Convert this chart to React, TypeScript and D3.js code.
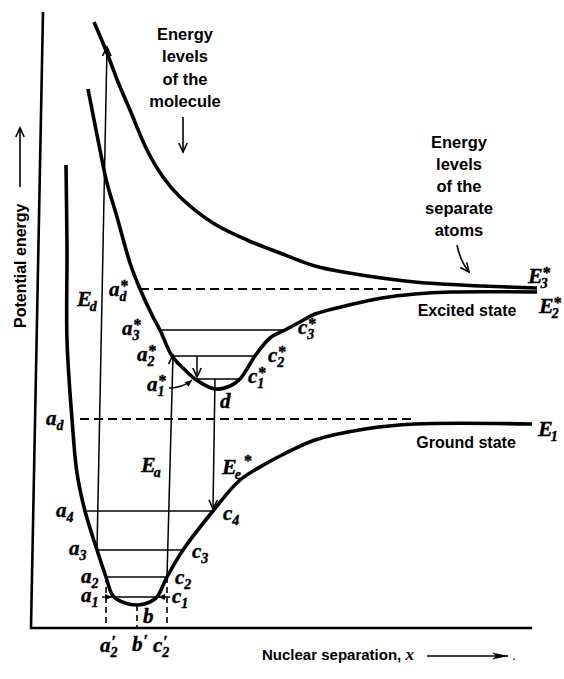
import React, { useEffect, useRef } from "react";
import * as d3 from "d3";

type Pt = [number, number];

// separation (u) vs potential energy (v), arbitrary units
const groundCurve: Pt[] = [
  [7.2, 92.6], [7.4, 75.6], [7.4, 57.6], [8.4, 41.8], [9.4, 31], [11, 23.4],
  [13.4, 15.6], [15.2, 10.2], [16.6, 6.4], [19, 5], [21.6, 4.6], [24, 5.2],
  [25.4, 6.2], [27.4, 10.2], [30.6, 15.6], [36.6, 23.4], [42, 29.6],
  [47.4, 33], [50.4, 34.6], [57, 37.6], [67, 39.8], [77, 40.8], [100.4, 40.8],
];

const excitedCurve: Pt[] = [
  [11.6, 107.8], [14, 95.6], [15.4, 89], [17.4, 82.2], [20, 73], [22, 67.8],
  [24.6, 62.2], [26, 59.6], [28.4, 54.4], [30.6, 52], [33, 49.8], [37, 47.8],
  [40, 48.4], [42, 49.8], [45, 54.4], [48, 58], [51, 59.6], [54, 61.2],
  [57, 62.8], [63.8, 64.6], [70.4, 66], [77, 66.8], [84, 67.2], [101.4, 67.2],
];

const repulsiveCurve: Pt[] = [
  [12.8, 121.2], [15.4, 115], [17.6, 109.2], [20, 103.6], [23.4, 95.6],
  [26.6, 90.2], [30, 86.2], [36.6, 81], [43.4, 77.6], [50, 75], [57, 72.4],
  [63.8, 71], [77, 69.2], [90.4, 68.4], [101.4, 68],
];

const axisFrame: Pt[] = [[2.6, 123.2], [0.2, 0], [100.4, 0]];

// vibrational levels: energy, left and right turning points
const groundLevels = [
  { v: 6.2, u0: 16.4, u1: 25.4 },
  { v: 10.2, u0: 15.2, u1: 27.4 },
  { v: 15.6, u0: 13.4, u1: 31 },
  { v: 23.4, u0: 11.4, u1: 36.6 },
];
const excitedLevels = [
  { v: 49.8, u0: 33.4, u1: 42 },
  { v: 54.4, u0: 28.4, u1: 45 },
  { v: 59.6, u0: 26, u1: 51 },
];
const dissociationLevels = [
  { v: 41.8, u0: 10, u1: 76.4 },
  { v: 67.8, u0: 22, u1: 75 },
];
const projections = [
  { u: 15.2, v: 10.2 },
  { u: 21.4, v: 4.6 },
  { u: 27.4, v: 10.2 },
];

// vertical transitions (arrow at "to")
const transitions: { from: Pt; to: Pt }[] = [
  { from: [13.4, 15.6], to: [15.4, 116.2] },
  { from: [27.4, 10.2], to: [28.6, 54.6] },
  { from: [37, 49.8], to: [36.6, 23.8] },
  { from: [33.4, 54.4], to: [33.4, 50.2] },
];
const pointers: { from: Pt; to: Pt }[] = [
  { from: [14.4, 6.2], to: [16.4, 6.2] },
  { from: [28, 6.2], to: [25.6, 6.2] },
];

const symbols = [
  { t: "E", sub: "d", u: 9.4, v: 64.4 },
  { t: "a", sub: "d", sup: "*", u: 15.8, v: 66.4 },
  { t: "a", sub: "3", sup: "*", u: 18.4, v: 58.6 },
  { t: "a", sub: "2", sup: "*", u: 21.4, v: 53.4 },
  { t: "a", sub: "1", sup: "*", u: 23.4, v: 47.4 },
  { t: "c", sub: "3", sup: "*", u: 53.6, v: 58.8 },
  { t: "c", sub: "2", sup: "*", u: 47.6, v: 53.2 },
  { t: "c", sub: "1", sup: "*", u: 43.6, v: 49 },
  { t: "d", u: 38, v: 44 },
  { t: "a", sub: "d", u: 3.2, v: 40.6 },
  { t: "E", sub: "a", u: 22.2, v: 31.2 },
  { t: "E", sub: "e", sup: "*", late: true, u: 38.4, v: 30.8 },
  { t: "a", sub: "4", u: 5.2, v: 22.2 },
  { t: "c", sub: "4", u: 38.6, v: 21.6 },
  { t: "a", sub: "3", u: 7.8, v: 14.6 },
  { t: "c", sub: "3", u: 32.4, v: 14 },
  { t: "a", sub: "2", u: 10.2, v: 9 },
  { t: "c", sub: "2", u: 29, v: 8.8 },
  { t: "a", sub: "1", u: 10.2, v: 5.2 },
  { t: "c", sub: "1", u: 28.4, v: 5 },
  { t: "b", u: 22.6, v: 1 },
  { t: "a", sub: "2", sup: "′", u: 14, v: -4.8 },
  { t: "b", sup: "′", u: 20.4, v: -4.6 },
  { t: "c", sub: "2", sup: "′", u: 24.6, v: -4.8 },
  { t: "E", sub: "3", sup: "*", u: 99.6, v: 69 },
  { t: "E", sub: "2", sup: "*", u: 101.8, v: 63 },
  { t: "E", sub: "1", u: 101.6, v: 38.4 },
];

const moleculeNote = ["Energy", "levels", "of the", "molecule"];
const atomsNote = ["Energy", "levels", "of the", "separate", "atoms"];
const stateNames = [
  { text: "Excited state", u: 87.4, v: 62.4 },
  { text: "Ground state", u: 87.2, v: 36 },
];

function App() {
  const ref = useRef<SVGSVGElement>(null);

  useEffect(() => {
    document.body.style.margin = "0";
    const svg = d3.select(ref.current);
    svg.selectAll("*").remove();

    const x = d3.scaleLinear().domain([0, 100]).range([30, 530]);
    const y = d3.scaleLinear().domain([0, 100]).range([628, 128]);
    const line = d3
      .line<Pt>()
      .x((d) => x(d[0]))
      .y((d) => y(d[1]));
    const smooth = d3
      .line<Pt>()
      .x((d) => x(d[0]))
      .y((d) => y(d[1]))
      .curve(d3.curveCatmullRom.alpha(0.5));

    const defs = svg.append("defs");
    defs
      .append("marker")
      .attr("id", "open")
      .attr("viewBox", "-10 -6 12 12")
      .attr("markerUnits", "userSpaceOnUse")
      .attr("markerWidth", 12)
      .attr("markerHeight", 12)
      .attr("orient", "auto")
      .append("path")
      .attr("d", "M-9,-4.2L0,0L-9,4.2")
      .attr("fill", "none")
      .attr("stroke", "#000")
      .attr("stroke-width", 1.6);
    defs
      .append("marker")
      .attr("id", "solid")
      .attr("viewBox", "-8 -4 9 8")
      .attr("markerUnits", "userSpaceOnUse")
      .attr("markerWidth", 9)
      .attr("markerHeight", 8)
      .attr("orient", "auto")
      .append("path")
      .attr("d", "M-7,-3L0,0L-7,3Z")
      .attr("fill", "#000");
    defs
      .append("marker")
      .attr("id", "long")
      .attr("viewBox", "-16 -5 17 10")
      .attr("markerUnits", "userSpaceOnUse")
      .attr("markerWidth", 17)
      .attr("markerHeight", 10)
      .attr("orient", "auto")
      .append("path")
      .attr("d", "M-16,-3.5L0,0L-16,3.5L-12,0Z")
      .attr("fill", "#000");

    svg
      .append("rect")
      .attr("width", 564)
      .attr("height", 679)
      .attr("fill", "#fff");

    // frame
    svg
      .append("path")
      .attr("d", line(axisFrame))
      .attr("fill", "none")
      .attr("stroke", "#000")
      .attr("stroke-width", 2.6);

    // dashed dissociation levels and projections
    svg
      .selectAll(".dis")
      .data(dissociationLevels)
      .join("line")
      .attr("x1", (d) => x(d.u0))
      .attr("x2", (d) => x(d.u1))
      .attr("y1", (d) => y(d.v))
      .attr("y2", (d) => y(d.v))
      .attr("stroke", "#000")
      .attr("stroke-width", 1.8)
      .attr("stroke-dasharray", "9,5");
    svg
      .selectAll(".proj")
      .data(projections)
      .join("line")
      .attr("x1", (d) => x(d.u))
      .attr("x2", (d) => x(d.u))
      .attr("y1", (d) => y(d.v))
      .attr("y2", y(0))
      .attr("stroke", "#000")
      .attr("stroke-width", 1.6)
      .attr("stroke-dasharray", "6,4");

    // vibrational levels
    svg
      .selectAll(".lev")
      .data([...groundLevels, ...excitedLevels])
      .join("line")
      .attr("x1", (d) => x(d.u0))
      .attr("x2", (d) => x(d.u1))
      .attr("y1", (d) => y(d.v))
      .attr("y2", (d) => y(d.v))
      .attr("stroke", "#000")
      .attr("stroke-width", 1.5);

    // transitions
    svg
      .selectAll(".tr")
      .data(transitions)
      .join("line")
      .attr("x1", (d) => x(d.from[0]))
      .attr("y1", (d) => y(d.from[1]))
      .attr("x2", (d) => x(d.to[0]))
      .attr("y2", (d) => y(d.to[1]))
      .attr("stroke", "#000")
      .attr("stroke-width", 1.5)
      .attr("marker-end", "url(#open)");
    svg
      .selectAll(".pt")
      .data(pointers)
      .join("line")
      .attr("x1", (d) => x(d.from[0]))
      .attr("y1", (d) => y(d.from[1]))
      .attr("x2", (d) => x(d.to[0]))
      .attr("y2", (d) => y(d.to[1]))
      .attr("stroke", "#000")
      .attr("stroke-width", 1.5)
      .attr("marker-end", "url(#solid)");
    // a1* curved pointer
    const p0 = [x(27.8), y(48)];
    const p1 = [x(32.4), y(49.6)];
    svg
      .append("path")
      .attr("d", `M${p0[0]},${p0[1]} Q${(p0[0] + p1[0]) / 2 + 2},${p1[1] + 8} ${p1[0]},${p1[1]}`)
      .attr("fill", "none")
      .attr("stroke", "#000")
      .attr("stroke-width", 1.5)
      .attr("marker-end", "url(#solid)");

    // potential curves
    svg
      .selectAll(".curve")
      .data([groundCurve, excitedCurve, repulsiveCurve])
      .join("path")
      .attr("d", (d) => smooth(d))
      .attr("fill", "none")
      .attr("stroke", "#000")
      .attr("stroke-width", 3.6)
      .attr("stroke-linecap", "butt");

    // symbols
    const sym = svg
      .append("g")
      .attr("font-family", "'Liberation Serif', 'DejaVu Serif', serif")
      .attr("font-weight", "bold")
      .attr("font-style", "italic")
      .attr("fill", "#000")
      .attr("stroke", "#000")
      .attr("stroke-width", 0.4);
    symbols.forEach((s: any) => {
      const bx = x(s.u);
      const by = y(s.v);
      const main = sym
        .append("text")
        .attr("x", bx)
        .attr("y", by)
        .attr("font-size", s.t === "E" ? 22 : 21)
        .text(s.t);
      const w = (main.node() as SVGTextElement).getComputedTextLength();
      const sx = bx + w + (s.t === "E" ? -2 : 0);
      let subW = 0;
      if (s.sub) {
        const st = sym
          .append("text")
          .attr("x", sx)
          .attr("y", by + 5)
          .attr("font-size", 14)
          .text(s.sub);
        subW = (st.node() as SVGTextElement).getComputedTextLength();
      }
      if (s.sup) {
        const prime = s.sup === "′";
        sym
          .append("text")
          .attr("x", s.late ? sx + subW + 3 : sx + (s.t === "E" ? 2 : 1))
          .attr("y", s.late ? by - 8 : by - (prime ? 5 : 5))
          .attr("font-size", prime ? 17 : 16)
          .attr("font-style", "normal")
          .text(s.sup);
      }
    });

    // notes
    const notes = svg
      .append("g")
      .attr("font-family", "'Liberation Sans', Arial, sans-serif")
      .attr("font-weight", "bold")
      .attr("font-size", 16.5)
      .attr("text-anchor", "middle")
      .attr("fill", "#000");
    notes
      .selectAll(".mol")
      .data(moleculeNote)
      .join("text")
      .attr("x", x(31))
      .attr("y", (d, i) => y(117.6) + i * 22.4)
      .text((d) => d);
    notes
      .selectAll(".atm")
      .data(atomsNote)
      .join("text")
      .attr("x", x(85.8))
      .attr("y", (d, i) => y(96) + i * 22)
      .text((d) => d);
    notes
      .selectAll(".st")
      .data(stateNames)
      .join("text")
      .attr("x", (d) => x(d.u))
      .attr("y", (d) => y(d.v))
      .attr("font-size", 16)
      .text((d) => d.text);

    // note arrows
    svg
      .append("line")
      .attr("x1", x(30.6))
      .attr("y1", y(102.2))
      .attr("x2", x(30.6))
      .attr("y2", y(95.2))
      .attr("stroke", "#000")
      .attr("stroke-width", 1.6)
      .attr("marker-end", "url(#open)");
    const a0 = [x(85.4), y(76.6)];
    const a1 = [x(87.8), y(71.2)];
    svg
      .append("path")
      .attr("d", `M${a0[0]},${a0[1]} Q${a0[0] + 3},${(a0[1] + a1[1]) / 2 + 2} ${a1[0]},${a1[1]}`)
      .attr("fill", "none")
      .attr("stroke", "#000")
      .attr("stroke-width", 1.6)
      .attr("marker-end", "url(#open)");

    // axis titles
    const xt = svg
      .append("text")
      .attr("x", x(46.4))
      .attr("y", y(-6.4))
      .attr("font-family", "'Liberation Sans', Arial, sans-serif")
      .attr("font-weight", "bold")
      .attr("font-size", 15);
    xt.append("tspan").text("Nuclear separation, ");
    xt.append("tspan")
      .attr("font-family", "'Liberation Serif', serif")
      .attr("font-style", "italic")
      .attr("font-size", 17)
      .text("x");
    svg
      .append("line")
      .attr("x1", x(79.4))
      .attr("y1", y(-5.6))
      .attr("x2", x(95.6))
      .attr("y2", y(-5.6))
      .attr("stroke", "#000")
      .attr("stroke-width", 1.5)
      .attr("marker-end", "url(#long)");
    svg
      .append("text")
      .attr("x", x(96.4))
      .attr("y", y(-6.4))
      .attr("font-family", "'Liberation Sans', Arial, sans-serif")
      .attr("font-size", 14)
      .text(".");

    svg
      .append("text")
      .attr("transform", `translate(26,${y(60)}) rotate(-90)`)
      .attr("font-family", "'Liberation Sans', Arial, sans-serif")
      .attr("font-weight", "bold")
      .attr("font-size", 16)
      .text("Potential energy");
    svg
      .append("line")
      .attr("x1", 20)
      .attr("y1", y(88.2))
      .attr("x2", 20)
      .attr("y2", y(100))
      .attr("stroke", "#000")
      .attr("stroke-width", 1.6)
      .attr("marker-end", "url(#open)");
  }, []);

  return <svg ref={ref} width={564} height={679} style={{ display: "block" }} />;
}

export default App;
